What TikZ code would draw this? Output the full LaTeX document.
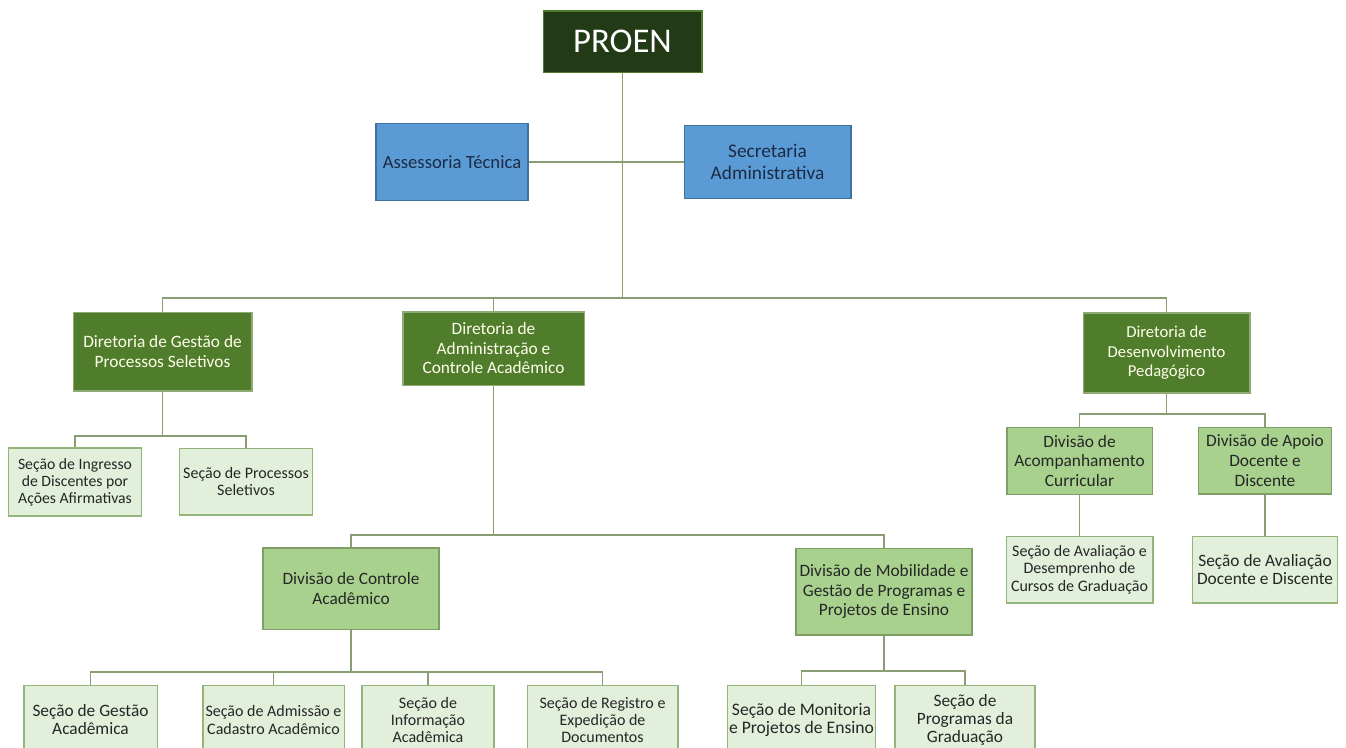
\documentclass[tikz,border=0pt]{standalone}
\usepackage{fontspec}
\setmainfont{Carlito}
\definecolor{proengreen}{HTML}{223A16}
\definecolor{dirgreen}{HTML}{507D2C}
\definecolor{dirline}{HTML}{8FAA74}
\definecolor{divgreen}{HTML}{A9D18E}
\definecolor{divline}{HTML}{7E9E66}
\definecolor{secgreen}{HTML}{E2EFDA}
\definecolor{secline}{HTML}{93B57A}
\definecolor{linegreen}{HTML}{8A9E74}
\definecolor{boxblue}{HTML}{5B9BD5}
\definecolor{boxblueline}{HTML}{41719C}
\definecolor{bluetext}{HTML}{1C2B45}
\definecolor{darktext}{HTML}{262626}

\begin{document}
\begin{tikzpicture}[x=0.75pt,y=-0.75pt,
  every node/.style={align=center,inner sep=1pt},
  proenbox/.style={fill=proengreen,draw=dirgreen,line width=1pt,text=white,font=\fontsize{26}{30}\selectfont},
  bluebox/.style={fill=boxblue,draw=boxblueline,line width=1pt,text=bluetext,font=\fontsize{14}{16}\selectfont},
  dirbox/.style={fill=dirgreen,draw=dirline,line width=1pt,text=white!92!yellow,font=\fontsize{13}{14.6}\selectfont},
  divbox/.style={fill=divgreen,draw=divline,line width=1pt,text=darktext,font=\fontsize{13}{14.8}\selectfont},
  secbox/.style={fill=secgreen,draw=secline,line width=1pt,text=darktext,font=\fontsize{12}{13}\selectfont},
  conn/.style={draw=linegreen,line width=1.4pt}]
\useasboundingbox (0,0) rectangle (1346,747);
\clip (0,0) rectangle (1346,747);

% bus lines
\coordinate (busmain) at (0,298);
\coordinate (busgps) at (0,436);
\coordinate (busadm) at (0,535);
\coordinate (busctrl) at (0,672);
\coordinate (busmob) at (0,671);
\coordinate (busdp) at (0,414);

% top
\node (proen) at (622.5,41.5) [proenbox,minimum width=119pt,minimum height=46pt] {PROEN};
\node (asst) at (452,162) [bluebox,minimum width=114pt,minimum height=58pt] {Assessoria Técnica};
\node (secr) at (767.5,162) [bluebox,minimum width=125pt,minimum height=55pt,font=\fontsize{14.5}{16}\selectfont] {Secretaria\\Administrativa};

% diretorias
\node (dgps) at (162.5,351.5) [dirbox,minimum width=134pt,minimum height=59pt] {Diretoria de Gestão de\\Processos Seletivos};
\node (dadm) at (493.5,348.5) [dirbox,minimum width=136pt,minimum height=55pt] {Diretoria de\\Administração e\\Controle Acadêmico};
\node (ddp) at (1166.5,353) [dirbox,minimum width=125pt,minimum height=60pt,font=\fontsize{12.5}{14.6}\selectfont] {Diretoria de\\Desenvolvimento\\Pedagógico};

% divisoes
\node (dctrl) at (351,588.5) [divbox,minimum width=132pt,minimum height=61pt] {Divisão de Controle\\Acadêmico};
\node (dmob) at (884,591.5) [divbox,minimum width=132pt,minimum height=65pt] {Divisão de Mobilidade e\\Gestão de Programas e\\Projetos de Ensino};
\node (dacomp) at (1079.5,461) [divbox,minimum width=109pt,minimum height=50pt] {Divisão de\\Acompanhamento\\Curricular};
\node (dapoio) at (1265,460.5) [divbox,minimum width=100pt,minimum height=50pt] {Divisão de Apoio\\Docente e\\Discente};

% secoes
\node (sing) at (75,482) [secbox,minimum width=100pt,minimum height=51pt,font=\fontsize{11.8}{12.8}\selectfont] {Seção de Ingresso\\de Discentes por\\Ações Afirmativas};
\node (sproc) at (246,481.5) [secbox,minimum width=100pt,minimum height=50pt] {Seção de Processos\\Seletivos};
\node (saval) at (1079.5,569.5) [secbox,minimum width=110pt,minimum height=50pt] {Seção de Avaliação e\\Desemprenho de\\Cursos de Graduação};
\node (savdd) at (1265,569.5) [secbox,minimum width=109pt,minimum height=50pt,font=\fontsize{13}{14}\selectfont] {Seção de Avaliação\\Docente e Discente};
\node (sgest) at (90.5,720) [secbox,minimum width=100pt,minimum height=52pt,font=\fontsize{13}{13.5}\selectfont] {Seção de Gestão\\Acadêmica};
\node (sadm) at (273.5,720) [secbox,minimum width=106pt,minimum height=52pt] {Seção de Admissão e\\Cadastro Acadêmico};
\node (sinfo) at (428,720) [secbox,minimum width=99pt,minimum height=52pt] {Seção de\\Informação\\Acadêmica};
\node (sreg) at (602.5,720) [secbox,minimum width=113pt,minimum height=52pt] {Seção de Registro e\\Expedição de\\Documentos};
\node (smon) at (801.5,720) [secbox,minimum width=110pt,minimum height=52pt,font=\fontsize{13.2}{14}\selectfont] {Seção de Monitoria\\e Projetos de Ensino};
\node (sprog) at (965,720) [secbox,minimum width=105pt,minimum height=52pt,font=\fontsize{13}{13.5}\selectfont] {Seção de\\Programas da\\Graduação};

% ligacoes
\draw[conn] (proen.south) -- (proen.south |- busmain);
\draw[conn] (asst.east) -- (secr.west);
\draw[conn] (dgps.north) |- (proen.south |- busmain) -| (ddp.north);
\draw[conn] (dadm.north) -- (dadm.north |- busmain);

\draw[conn] (dgps.south) -- (dgps.south |- busgps);
\draw[conn] (sing.north) |- (dgps.south |- busgps) -| (sproc.north);

\draw[conn] (dadm.south) -- (dadm.south |- busadm);
\draw[conn] (dctrl.north) |- (dadm.south |- busadm) -| (dmob.north);

\draw[conn] (dctrl.south) -- (dctrl.south |- busctrl);
\draw[conn] (sgest.north) |- (dctrl.south |- busctrl) -| (sreg.north);
\draw[conn] (sadm.north) -- (sadm.north |- busctrl);
\draw[conn] (sinfo.north) -- (sinfo.north |- busctrl);

\draw[conn] (dmob.south) -- (dmob.south |- busmob);
\draw[conn] (smon.north) |- (dmob.south |- busmob) -| (sprog.north);

\draw[conn] (ddp.south) -- (ddp.south |- busdp);
\draw[conn] (dacomp.north) |- (ddp.south |- busdp) -| (dapoio.north);
\draw[conn] (dacomp.south) -- (saval.north);
\draw[conn] (dapoio.south) -- (savdd.north);
\end{tikzpicture}
\end{document}
